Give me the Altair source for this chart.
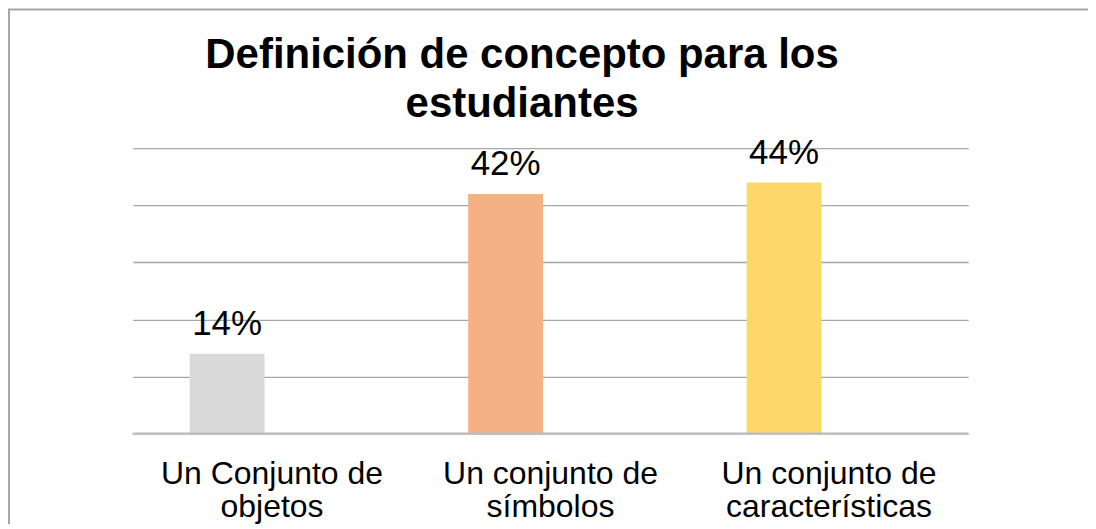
import altair as alt
import pandas as pd

categories = ["Un Conjunto de|objetos", "Un conjunto de|símbolos", "Un conjunto de|características"]
values = [14, 42, 44]
labels = ["14%", "42%", "44%"]
colors = ["#d9d9d9", "#f4b183", "#fdd868"]
title_lines = "Definición de concepto para los\nestudiantes"

df = pd.DataFrame({"cat": categories, "val": values, "lab": labels, "col": colors})

FONT = "Liberation Sans"

x = alt.X("cat:N", sort=categories, title=None,
          scale=alt.Scale(paddingInner=0, paddingOuter=0),
          axis=alt.Axis(labelExpr="split(datum.label, '|')", labelAngle=0,
                        labelFontSize=32, labelFont=FONT, labelColor="#000000",
                        labelLineHeight=33, labelBaseline="alphabetic", labelPadding=50,
                        ticks=False, domain=False, grid=False, labelLimit=400))
y = alt.Y("val:Q", title=None,
          scale=alt.Scale(domain=[0, 50], nice=False),
          axis=alt.Axis(values=[0, 10, 20, 30, 40, 50], labels=False, ticks=False,
                        domain=False, grid=True, gridColor="#a6a6a6", gridWidth=1.3))

base = alt.Chart(df)

bars = base.mark_bar(size=75, xOffset=-45).encode(
    x=x, y=y, color=alt.Color("col:N", scale=None)
)

text = base.mark_text(xOffset=-45, dy=-19, baseline="alphabetic", fontSize=35,
                      font=FONT, color="#000000").encode(x=x, y=y, text="lab:N")

baseline = base.mark_rule(color="#bfbfbf", strokeWidth=2).encode(
    y=alt.datum(0), x=alt.value(0), x2=alt.value(837)
)

border = alt.Chart(pd.DataFrame({"t": [0]})).mark_rect(
    fill=None, stroke="#a6a6a6", strokeWidth=2).encode(
    x=alt.value(-124), x2=alt.value(1000), y=alt.value(-139), y2=alt.value(420)
)

title = alt.Chart(pd.DataFrame({"t": [title_lines]})).mark_text(
    fontSize=42, font=FONT, fontWeight="bold", color="#000000", lineBreak="\n",
    lineHeight=49, align="center", baseline="alphabetic").encode(
    x=alt.value(390), y=alt.value(-80), text="t:N"
)

chart = alt.layer(border, bars, baseline, text, title).properties(
    width=837, height=286,
    autosize=alt.AutoSizeParams(type="none"),
    padding={"left": 125, "top": 140, "right": 120, "bottom": 90},
    background="#ffffff",
).configure_view(stroke=None)

chart.save("out.html", embed_options={"renderer": "svg", "actions": False})
